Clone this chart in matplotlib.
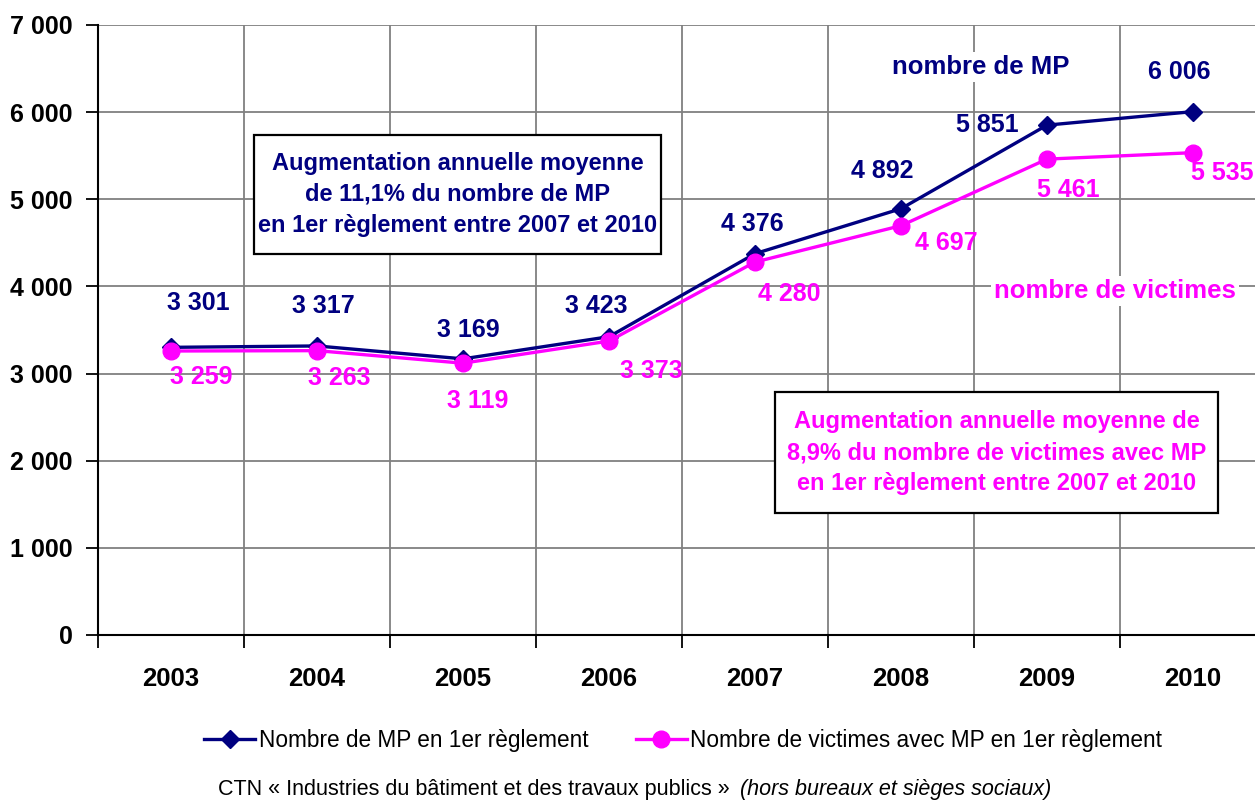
import matplotlib
matplotlib.use('Agg')
import matplotlib.pyplot as plt
from matplotlib.patches import Rectangle
from matplotlib.lines import Line2D

plt.rcParams['font.family'] = ['Liberation Sans', 'DejaVu Sans']

annees = ['2003', '2004', '2005', '2006', '2007', '2008', '2009', '2010']
nb_mp = [3301, 3317, 3169, 3423, 4376, 4892, 5851, 6006]
nb_victimes = [3259, 3263, 3119, 3373, 4280, 4697, 5461, 5535]
y_ticks = [0, 1000, 2000, 3000, 4000, 5000, 6000, 7000]

NAVY = '#000080'
MAGENTA = '#FF00FF'
W, H = 1255, 800

def fmt(v):
    return f'{v:,}'.replace(',', ' ')

fig = plt.figure(figsize=(W / 100, H / 100), dpi=100)
ax = fig.add_axes([98 / W, 165 / H, 1168 / W, 610 / H])

x = list(range(len(annees)))
ax.plot(x, nb_mp, color=NAVY, lw=2.4, marker='D', ms=9.5, zorder=4, clip_on=False)
ax.plot(x, nb_victimes, color=MAGENTA, lw=2.4, marker='o', ms=12, zorder=5, clip_on=False)

ax.set_xlim(-0.5, len(annees) - 0.5)
ax.set_ylim(0, 7000)
ax.set_yticks(y_ticks)
ax.set_yticklabels([fmt(v) for v in y_ticks])
ax.set_xticks([i - 0.5 for i in range(len(annees) + 1)])
ax.set_xticklabels([])
ax.set_xticks(x, minor=True)
ax.set_xticklabels(annees, minor=True)
ax.tick_params(axis='x', which='minor', length=0, pad=23, labelsize=18.5)
ax.tick_params(axis='x', which='major', length=9, width=1.3, direction='out')
ax.tick_params(axis='y', length=9, width=1.3, direction='out', pad=9, labelsize=18)
for lab in ax.get_xticklabels(minor=True) + ax.get_yticklabels():
    lab.set_fontweight('bold')

ax.grid(True, which='major', color='#808080', lw=1.3)
ax.set_axisbelow(True)
for s in ['top', 'right']:
    ax.spines[s].set_visible(False)
for s in ['left', 'bottom']:
    ax.spines[s].set_linewidth(1.5)
    ax.spines[s].set_zorder(3)

# étiquettes de valeurs (décalages en pixels)
off_mp = [(27, 44), (6, 40), (5, 29), (-13, 31), (-3, 30), (-19, 38), (-60, 0), (-14, 40)]
off_vic = [(30, -26), (22, -27), (15, -38), (42, -30), (34, -32), (45, -17), (21, -31), (29, -20)]
for i in x:
    ax.annotate(fmt(nb_mp[i]), (i, nb_mp[i]), xytext=off_mp[i], textcoords='offset pixels',
                ha='center', va='center', color=NAVY, fontsize=18, fontweight='bold', zorder=6)
    ax.annotate(fmt(nb_victimes[i]), (i, nb_victimes[i]), xytext=off_vic[i], textcoords='offset pixels',
                ha='center', va='center', color=MAGENTA, fontsize=18, fontweight='bold',
                zorder=6, annotation_clip=False)

def fx(px):
    return px / W

def fy(py):
    return 1 - py / H

fig.text(fx(981), fy(67), 'nombre de MP', ha='center', va='center', color=NAVY,
         fontsize=18.5, fontweight='bold',
         bbox=dict(facecolor='white', edgecolor='none', pad=2))
fig.text(fx(1115), fy(291), 'nombre de victimes', ha='center', va='center', color=MAGENTA,
         fontsize=18.5, fontweight='bold',
         bbox=dict(facecolor='white', edgecolor='none', pad=2))

# encadrés
boxes = [
    ((254, 135, 661, 254), NAVY,
     'Augmentation annuelle moyenne\nde 11,1% du nombre de MP\nen 1er règlement entre 2007 et 2010'),
    ((775, 392, 1218, 513), MAGENTA,
     'Augmentation annuelle moyenne de\n8,9% du nombre de victimes avec MP\nen 1er règlement entre 2007 et 2010'),
]
for (x0, y0, x1, y1), col, txt in boxes:
    fig.patches.append(Rectangle((fx(x0), fy(y1)), fx(x1 - x0), (y1 - y0) / H,
                                 transform=fig.transFigure, facecolor='white',
                                 edgecolor='black', lw=1.6, zorder=7))
    fig.text(fx((x0 + x1) / 2), fy((y0 + y1) / 2), txt, ha='center', va='center',
             color=col, fontsize=17, fontweight='bold', linespacing=1.42, zorder=8)

handles = [
    Line2D([], [], color=NAVY, lw=2.4, marker='D', ms=9.5),
    Line2D([], [], color=MAGENTA, lw=2.4, marker='o', ms=12),
]
fig.legend(handles, ['Nombre de MP en 1er règlement', 'Nombre de victimes avec MP en 1er règlement'],
           loc='center', bbox_to_anchor=(fx(683), fy(740)), ncol=2, frameon=False,
           fontsize=16.3, handlelength=2.25, handletextpad=0.15, columnspacing=2.1)

fig.text(fx(736), fy(790), 'CTN « Industries du bâtiment et des travaux publics » ',
         ha='right', va='center', fontsize=15.5)
fig.text(fx(740), fy(790), '(hors bureaux et sièges sociaux)',
         ha='left', va='center', fontsize=15.5, style='italic')

fig.savefig('out.png', dpi=100)
